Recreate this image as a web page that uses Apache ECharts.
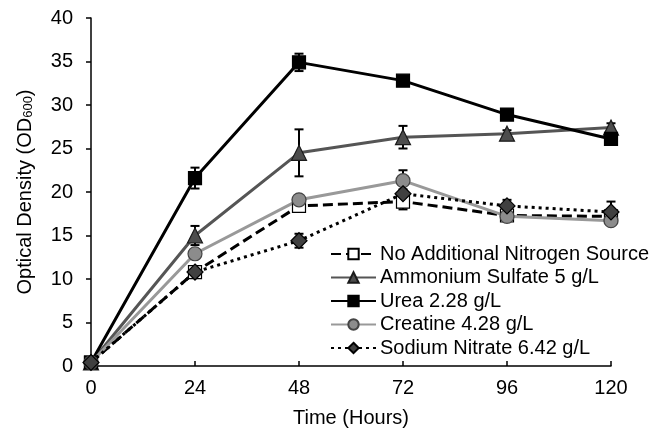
<!DOCTYPE html>
<html>
<head>
<meta charset="utf-8">
<title>Optical Density</title>
<script src="https://cdn.jsdelivr.net/npm/echarts@6/dist/echarts.min.js"></script>
<style>
	html,body{margin:0;padding:0;background:#fff;}
	#chart{width:660px;height:433px;}
</style>
</head>
<body>
<div id="chart"></div>
<script>
// data
const hours = [0, 24, 48, 72, 96, 120];
const xTicks = [0, 24, 48, 72, 96, 120];
const yTicks = [0, 5, 10, 15, 20, 25, 30, 35, 40];

const names = ['No Additional Nitrogen Source', 'Ammonium Sulfate 5 g/L', 'Urea 2.28 g/L', 'Creatine 4.28 g/L', 'Sodium Nitrate 6.42 g/L'];

const noAdd = [0.4, 10.8, 18.4, 18.9, 17.3, 17.2];
const noAddErr = [0.2, 0.5, 0.5, 0.9, 0.3, 0.3];
const ammonium = [0.4, 15.0, 24.5, 26.3, 26.7, 27.4];
const ammoniumErr = [0.2, 1.1, 2.7, 1.3, 0.4, 0.5];
const urea = [0.4, 21.6, 34.9, 32.8, 28.9, 26.1];
const ureaErr = [0.2, 1.2, 1.0, 0.5, 0.4, 0.4];
const creatine = [0.4, 12.9, 19.1, 21.3, 17.2, 16.7];
const creatineErr = [0.2, 0.4, 0.4, 1.2, 0.4, 0.4];
const nitrate = [0.4, 10.8, 14.4, 19.8, 18.4, 17.7];
const nitrateErr = [0.2, 0.5, 0.8, 0.5, 0.7, 1.2];

const font = '"Liberation Sans", Arial, sans-serif';

function pts(vals){
	return hours.map((h, i) => [h, vals[i]]);
}
function errPts(vals, errs){
	return hours.map((h, i) => [h, vals[i] - errs[i], vals[i] + errs[i]]);
}

// error bars with caps
function errorSeries(vals, errs){
	return {
		type: 'custom',
		z: 1,
		silent: true,
		data: errPts(vals, errs),
		encode: {x: 0, y: [1, 2]},
		renderItem: function(params, api){
			let lo = api.coord([api.value(0), api.value(1)]);
			let hi = api.coord([api.value(0), api.value(2)]);
			let w = 4.5;
			let st = {stroke: '#000', lineWidth: 2};
			return {
				type: 'group',
				children: [
					{type: 'line', shape: {x1: lo[0], y1: lo[1], x2: hi[0], y2: hi[1]}, style: st},
					{type: 'line', shape: {x1: lo[0]-w, y1: lo[1], x2: lo[0]+w, y2: lo[1]}, style: st},
					{type: 'line', shape: {x1: hi[0]-w, y1: hi[1], x2: hi[0]+w, y2: hi[1]}, style: st}
				]
			};
		}
	};
}

function lineSeries(name, vals, lineColor, lineType, symbol, size, fill, border){
	return {
		name: name,
		type: 'line',
		z: 2,
		data: pts(vals),
		symbol: symbol,
		symbolSize: size,
		lineStyle: {color: lineColor, width: 3, type: lineType},
		itemStyle: {color: fill, borderColor: border, borderWidth: 1.2},
		emphasis: {disabled: true}
	};
}

let myChart = echarts.init(document.getElementById('chart'));
let option = {
	animation: false,
	backgroundColor: '#fff',
	textStyle: {fontFamily: font},
	grid: {left: 91, right: 49, top: 18, bottom: 63},
	legend: {
		orient: 'vertical',
		left: 325,
		top: 239,
		itemWidth: 45,
		itemHeight: 13,
		itemGap: 3.5,
		textStyle: {fontSize: 20, color: '#000', fontFamily: font, padding: [0, 0, 0, -1]},
		data: names
	},
	xAxis: {
		type: 'value',
		min: 0,
		max: 120,
		interval: 24,
		name: 'Time (Hours)',
		nameLocation: 'middle',
		nameGap: 42,
		nameTextStyle: {fontSize: 20, color: '#000', fontFamily: font},
		axisLine: {lineStyle: {color: '#000', width: 1.5}},
		axisTick: {inside: true, length: 5, lineStyle: {color: '#000', width: 1.5}},
		axisLabel: {fontSize: 20, color: '#000', margin: 12, fontFamily: font,
			formatter: v => xTicks.indexOf(v) >= 0 ? String(v) : ''},
		splitLine: {show: false}
	},
	yAxis: {
		type: 'value',
		min: 0,
		max: 40,
		interval: 5,
		name: 'Optical Density (OD{s|600})',
		nameLocation: 'middle',
		nameGap: 56,
		nameTextStyle: {fontSize: 20, color: '#000', fontFamily: font,
			rich: {s: {fontSize: 13, color: '#000', fontFamily: font, verticalAlign: 'bottom', padding: [6, 0, 0, 0]}}},
		axisLine: {show: true, lineStyle: {color: '#000', width: 1.5}},
		axisTick: {show: true, length: 5, lineStyle: {color: '#000', width: 1.5}},
		axisLabel: {fontSize: 20, color: '#000', margin: 18, fontFamily: font,
			formatter: v => yTicks.indexOf(v) >= 0 ? String(v) : ''},
		splitLine: {show: false}
	},
	series: [
		errorSeries(noAdd, noAddErr),
		errorSeries(ammonium, ammoniumErr),
		errorSeries(urea, ureaErr),
		errorSeries(creatine, creatineErr),
		errorSeries(nitrate, nitrateErr),
		lineSeries(names[0], noAdd, '#000', [10, 5], 'rect', 13, '#fff', '#000'),
		lineSeries(names[1], ammonium, '#555', 'solid', 'triangle', 15, '#4d4d4d', '#1a1a1a'),
		lineSeries(names[2], urea, '#000', 'solid', 'rect', 13, '#000', '#000'),
		lineSeries(names[3], creatine, '#999', 'solid', 'circle', 14, '#8c8c8c', '#444'),
		lineSeries(names[4], nitrate, '#000', [3, 4], 'diamond', 16, '#404040', '#000')
	]
};
myChart.setOption(option);
</script>
</body>
</html>
